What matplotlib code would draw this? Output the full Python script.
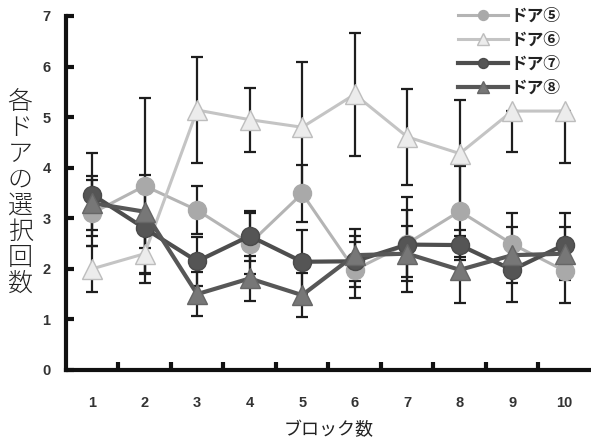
import matplotlib
matplotlib.use("Agg")
import matplotlib.pyplot as plt
import numpy as np

plt.rcParams['font.family'] = ['Noto Sans CJK JP', 'DejaVu Sans']

blocks = [1, 2, 3, 4, 5, 6, 7, 8, 9, 10]
labels = ["ドア⑤", "ドア⑥", "ドア⑦", "ドア⑧"]

door5 = [3.10, 3.64, 3.16, 2.50, 3.49, 1.98, 2.50, 3.14, 2.49, 1.96]
door6 = [2.00, 2.30, 5.14, 4.95, 4.80, 5.45, 4.61, 4.28, 5.12, 5.12]
door7 = [3.47, 2.80, 2.15, 2.65, 2.14, 2.15, 2.48, 2.47, 1.98, 2.48]
door8 = [3.30, 3.13, 1.50, 1.81, 1.48, 2.27, 2.30, 1.98, 2.27, 2.30]

err5_lo = [0.65, 1.73, 0.47, 0.60, 0.56, 0.56, 0.66, 0.90, 0.62, 0.64]
err5_hi = [0.65, 1.73, 0.47, 0.60, 0.56, 0.56, 0.66, 0.90, 0.62, 0.64]
err6_lo = [0.45, 0.58, 1.04, 0.63, 1.29, 1.22, 0.95, 1.06, 0.81, 1.02]
err6_hi = [0.45, 0.58, 1.04, 0.63, 1.29, 1.22, 0.95, 1.06, 0.00, 0.00]
err7_lo = [0.82, 0.90, 0.48, 0.50, 0.63, 0.50, 0.94, 0.30, 0.63, 0.63]
err7_hi = [0.82, 0.90, 0.48, 0.50, 0.63, 0.50, 0.94, 0.30, 0.63, 0.63]
err8_lo = [0.53, 0.72, 0.43, 0.45, 0.43, 0.52, 0.55, 0.66, 0.55, 0.52]
err8_hi = [0.53, 0.72, 0.43, 0.45, 0.43, 0.52, 0.55, 0.66, 0.55, 0.52]

yticks = [0, 1, 2, 3, 4, 5, 6, 7]

fig = plt.figure(figsize=(5.91, 4.43), dpi=100)
ax = fig.add_axes([0.1115, 0.1648, 0.8885, 0.7991])

series = [
    (door5, err5_lo, err5_hi, dict(color='#b4b4b4', lw=2.2, marker='o', ms=13,
                                    mfc='#a9a9a9', mec='#a9a9a9')),
    (door6, err6_lo, err6_hi, dict(color='#c4c4c4', lw=2.2, marker='^', ms=15,
                                    mfc='#ececec', mec='#bdbdbd', mew=1.0)),
    (door7, err7_lo, err7_hi, dict(color='#4e4e4e', lw=3.0, marker='o', ms=13,
                                    mfc='#555555', mec='#4a4a4a')),
    (door8, err8_lo, err8_hi, dict(color='#575757', lw=3.0, marker='^', ms=15,
                                    mfc='#777777', mec='#666666', mew=1.0)),
]

for vals, lo, hi, st in series:
    ax.errorbar(blocks, vals, yerr=[lo, hi], fmt='none', ecolor='#1e1e1e',
                elinewidth=1.6, capsize=4.5, capthick=1.6, zorder=1)

handles = []
for i, (vals, lo, hi, st) in enumerate(series):
    h, = ax.plot(blocks, vals, zorder=2 + i, label=labels[i], **st)
    handles.append(h)

ax.set_xlim(0.5, 10.5)
ax.set_ylim(0, 7)
ax.set_yticks(yticks)
ax.set_xticks(blocks)
ax.set_xticks([b + 0.5 for b in blocks[:-1]], minor=True)

for s in ['top', 'right']:
    ax.spines[s].set_visible(False)
ax.spines['left'].set_linewidth(3)
ax.spines['bottom'].set_linewidth(3)
ax.spines['left'].set_color('#111111')
ax.spines['bottom'].set_color('#111111')

ax.tick_params(axis='y', direction='in', length=6, width=3, color='#111111',
               labelsize=10.5, pad=11, labelcolor='#333333')
ax.tick_params(axis='x', which='major', length=0, labelsize=10.5, pad=19,
               labelcolor='#333333')
ax.tick_params(axis='x', which='minor', direction='in', length=6, width=3,
               color='#111111')
for lab in ax.get_xticklabels() + ax.get_yticklabels():
    lab.set_fontfamily(['Liberation Sans', 'DejaVu Sans'])
    lab.set_fontweight('bold')

ax.set_xlabel("ブロック数", fontsize=13, labelpad=8, color='#222222')

fig.text(0.034, 0.565, "\n".join("各ドアの選択回数"), fontsize=18,
         ha='center', va='center', linespacing=0.98, fontweight='light',
         color='#222222')

leg = ax.legend(handles=handles, loc='upper left',
                bbox_to_anchor=(458 / 591, 0.984), bbox_transform=fig.transFigure,
                frameon=False, markerscale=0.55, handlelength=3.0,
                handletextpad=0.12, labelspacing=0.36, borderpad=0.0,
                borderaxespad=0.0, prop={'size': 12, 'weight': 'bold'})
for t in leg.get_texts():
    t.set_color('#222222')

fig.savefig("out.png", dpi=100)
